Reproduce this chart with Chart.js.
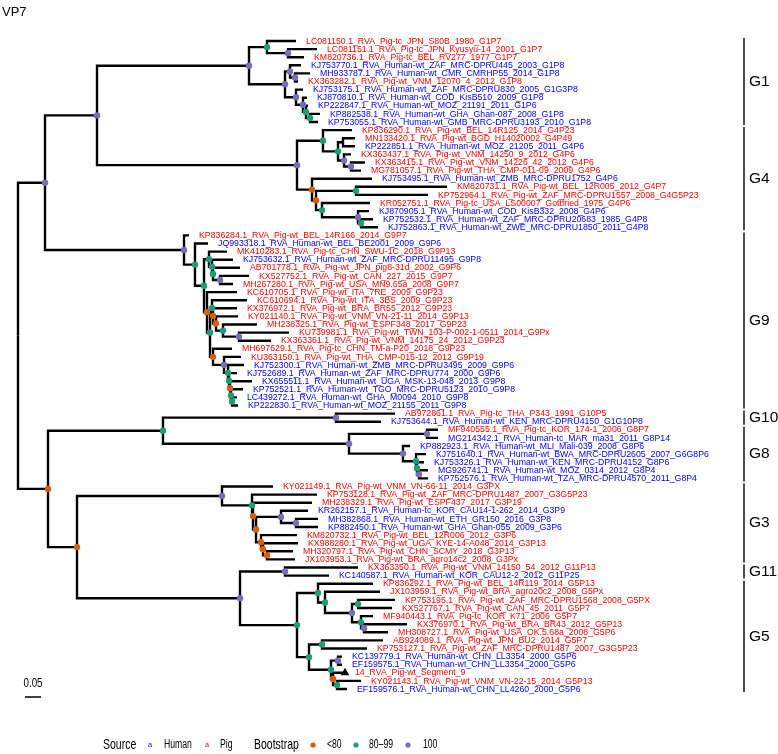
<!DOCTYPE html>
<html><head><meta charset="utf-8">
<script src="https://cdn.jsdelivr.net/npm/chart.js@4.4.1/dist/chart.umd.min.js"></script>
<style>html,body{margin:0;padding:0;background:#fff;}#wrap{width:778px;height:754px;position:relative;}canvas{display:block;}</style>
</head><body><div id="wrap"><canvas id="c" width="778" height="754"></canvas></div>
<script>
// ---------- DATA ----------
const leafNames = [
"LC081150.1_RVA_Pig-tc_JPN_S80B_1980_G1P7",
"LC081151.1_RVA_Pig-tc_JPN_Kyusyu-14_2001_G1P7",
"KM820736.1_RVA_Pig-tc_BEL_RV277_1977_G1P7",
"KJ753770.1_RVA_Human-wt_ZAF_MRC-DPRU445_2003_G1P8",
"MH933787.1_RVA_Human-wt_CMR_CMRHP55_2014_G1P8",
"KX363282.1_RVA_Pig-wt_VNM_12070_4_2012_G1P8",
"KJ753175.1_RVA_Human-wt_ZAF_MRC-DPRU830_2005_G1G3P8",
"KJ870810.1_RVA_Human-wt_COD_KisB510_2009_G1P8",
"KP222847.1_RVA_Human-wt_MOZ_21191_2011_G1P6",
"KP882538.1_RVA_Human-wt_GHA_Ghan-087_2008_G1P8",
"KP753055.1_RVA_Human-wt_GMB_MRC-DPRU3193_2010_G1P8",
"KP836290.1_RVA_Pig-wt_BEL_14R125_2014_G4P23",
"MN133420.1_RVA_Pig-wt_BGD_H14020002_G4P49",
"KP222851.1_RVA_Human-wt_MOZ_21205_2011_G4P6",
"KX363437.1_RVA_Pig-wt_VNM_14250_9_2012_G4P6",
"KX363415.1_RVA_Pig-wt_VNM_14226_42_2012_G4P6",
"MG781057.1_RVA_Pig-wt_THA_CMP-011-09_2009_G4P6",
"KJ753495.1_RVA_Human-wt_ZMB_MRC-DPRU1752_G4P6",
"KM820731.1_RVA_Pig-wt_BEL_12R005_2012_G4P7",
"KP752964.1_RVA_Pig-wt_ZAF_MRC-DPRU1557_2008_G4G5P23",
"KR052751.1_RVA_Pig-tc_USA_LS00007_Gottfried_1975_G4P6",
"KJ870905.1_RVA_Human-wt_COD_KisB332_2008_G4P6",
"KP752532.1_RVA_Human-wt_ZAF_MRC-DPRU20683_1985_G4P8",
"KJ752863.1_RVA_Human-wt_ZWE_MRC-DPRU1850_2011_G4P8",
"KP836284.1_RVA_Pig-wt_BEL_14R166_2014_G9P7",
"JQ993318.1_RVA_Human-wt_BEL_BE2001_2009_G9P6",
"MK410283.1_RVA_Pig-tc_CHN_SWU-1C_2018_G9P13",
"KJ753632.1_RVA_Human-wt_ZAF_MRC-DPRU11495_G9P8",
"AB701778.1_RVA_Pig-wt_JPN_pig8-31d_2002_G9P6",
"KX527752.1_RVA_Pig-wt_CAN_227_2015_G9P7",
"MH267280.1_RVA_Pig-wt_USA_MN9.65a_2008_G9P7",
"KC610705.1_RVA_Pig-wt_ITA_7RE_2009_G9P23",
"KC610694.1_RVA_Pig-wt_ITA_3BS_2009_G9P23",
"KX376972.1_RVA_Pig-wt_BRA_BR55_2012_G9P23",
"KY021140.1_RVA_Pig-wt_VNM_VN-21-11_2014_G9P13",
"MH238325.1_RVA_Pig-wt_ESPF348_2017_G9P23",
"KU739981.1_RVA_Pig-wt_TWN_103-P-002-1-0511_2014_G9Px",
"KX363361.1_RVA_Pig-wt_VNM_14175_24_2012_G9P23",
"MH697629.1_RVA_Pig-tc_CHN_TM-a-P20_2018_G9P23",
"KU363150.1_RVA_Pig-wt_THA_CMP-015-12_2012_G9P19",
"KJ752300.1_RVA_Human-wt_ZMB_MRC-DPRU3495_2009_G9P6",
"KJ752689.1_RVA_Human-wt_ZAF_MRC-DPRU774_2000_G9P6",
"KX655511.1_RVA_Human-wt_UGA_MSK-13-048_2013_G9P8",
"KP752521.1_RVA_Human-wt_TGO_MRC-DPRU5123_2010_G9P8",
"LC439272.1_RVA_Human-wt_GHA_M0094_2010_G9P8",
"KP222830.1_RVA_Human-wt_MOZ_21155_2011_G9P8",
"AB972861.1_RVA_Pig-tc_THA_P343_1991_G10P5",
"KJ753644.1_RVA_Human-wt_KEN_MRC-DPRU4150_G1G10P8",
"MF940555.1_RVA_Pig-tc_KOR_174-1_2006_G8P7",
"MG214342.1_RVA_Human-tc_MAR_ma31_2011_G8P14",
"KP882923.1_RVA_Human-wt_MLI_Mali-039_2008_G8P6",
"KJ751640.1_RVA_Human-wt_BWA_MRC-DPRU2605_2007_G6G8P6",
"KJ753326.1_RVA_Human-wt_KEN_MRC-DPRU4152_G8P6",
"MG926741.1_RVA_Human-wt_MOZ_0314_2012_G8P4",
"KP752576.1_RVA_Human-wt_TZA_MRC-DPRU4570_2011_G8P4",
"KY021149.1_RVA_Pig-wt_VNM_VN-66-11_2014_G3PX",
"KP753128.1_RVA_Pig-wt_ZAF_MRC-DPRU1487_2007_G3G5P23",
"MH238329.1_RVA_Pig-wt_ESPF437_2017_G3P19",
"KR262157.1_RVA_Human-tc_KOR_CAU14-1-262_2014_G3P9",
"MH382868.1_RVA_Human-wt_ETH_GR150_2016_G3P8",
"KP882450.1_RVA_Human-wt_GHA_Ghan-055_2009_G3P6",
"KM820732.1_RVA_Pig-wt_BEL_12R006_2012_G3P6",
"KX988280.1_RVA_Pig-wt_UGA_KYE-14-A048_2014_G3P13",
"MH320797.1_RVA_Pig-wt_CHN_SCMY_2018_G3P13",
"JX103953.1_RVA_Pig-wt_BRA_agro14c2_2008_G3Px",
"KX363350.1_RVA_Pig-wt_VNM_14150_54_2012_G11P13",
"KC140587.1_RVA_Human-wt_KOR_CAU12-2_2012_G11P25",
"KP836292.1_RVA_Pig-wt_BEL_14R119_2014_G5P13",
"JX103959.1_RVA_Pig-wt_BRA_agro20c2_2008_G5Px",
"KP753195.1_RVA_Pig-wt_ZAF_MRC-DPRU1568_2008_G5PX",
"KX527767.1_RVA_Pig-wt_CAN_45_2011_G5P7",
"MF940443.1_RVA_Pig-tc_KOR_K71_2006_G5P7",
"KX376970.1_RVA_Pig-wt_BRA_BR43_2012_G5P13",
"MH308727.1_RVA_Pig-wt_USA_OK.5.68a_2008_G5P6",
"AB924089.1_RVA_Pig-wt_JPN_BU2_2014_G5P7",
"KP753127.1_RVA_Pig-wt_ZAF_MRC-DPRU1487_2007_G3G5P23",
"KC139779.1_RVA_Human-wt_CHN_LL3354_2000_G5P6",
"EF159575.1_RVA_Human-wt_CHN_LL3354_2000_G5P6",
"14_RVA_Pig-wt_Segment_9",
"KY021143.1_RVA_Pig-wt_VNM_VN-22-15_2014_G5P13",
"EF159576.1_RVA_Human-wt_CHN_LL4260_2000_G5P6"
];
const leafSource = ("PPPHHPHHHHH" + "PPHPPPHPPPHHH" + "PHPHPPPPPPPPPPPPHHHHHH" + "PH" + "PHHHHHH" + "PPPHHHPPPP" + "PH" + "PPPPPPPPPHHPPH").split("");
// tip depth (substitutions/site from root)
const leafDepth = [
0.8688,0.9344,0.8938,0.8844,0.9125,0.875,0.8906,0.9031,0.9063,0.9438,0.9375,
1.0438,1.0531,1.0531,1.0406,1.0844,1.0719,1.1063,1.3406,1.2813,1.1,1.0969,1.1094,1.125,
0.5344,0.5938,0.6531,0.6719,0.6938,0.7219,0.6719,0.6844,0.7156,0.6844,0.6875,0.7469,0.8469,0.7906,0.6688,0.6969,0.7063,0.6844,0.7313,0.7031,0.6844,0.6875,
1.1781,1.1344,
1.3125,1.3125,1.225,1.275,1.2688,1.2813,1.2813,
0.7969,0.9344,0.9188,0.9063,0.9375,0.9375,0.8719,0.875,0.8594,0.8656,
1.0625,0.9719,
1.1094,1.1313,1.1781,1.1688,1.1094,1.2156,1.1563,1.1406,1.0906,1.0125,1.0125,1.0219,1.0719,1.0281
];
// internal nodes: [depth, bootstrapClass(0 none,1 <80,2 80-99,3 100), children...]; numbers = leaf index
const TREE = [0, 0,
  [0.0844, 3,
    [0.2469, 3,
      [0.7219, 3,
        [0.7781, 2, 0, [0.8438, 3, 1, 2]],
        [0.8344, 3,
          [0.85, 3, 3, [0.8656, 3, 4, 5]],
          [0.8688, 3, 6, [0.8906, 3, 7, [0.9, 2, 8, [0.9125, 2, 9, 10]]]]]],
      [0.8719, 3,
        [0.9531, 2, 11, [1.0, 2, [1.0156, 0, 12, 13], [1.0188, 3, 14, [1.0406, 3, 15, 16]]]],
        [0.9188, 1, 17, [0.9313, 1, [1.0563, 2, 18, 19], [0.95, 2, 20, [1.0625, 3, 21, [1.0719, 2, 22, 23]]]]]]],
    [0.5188, 3, 24,
      [0.5531, 2, 25,
        [0.5813, 2,
          [0.5969, 2, 26, [0.6063, 2, 27, [0.6094, 2, 28, [0.6313, 3, 29, 30]]]],
          [0.5906, 1, 31,
            [0.6, 2,
              [0.6063, 2, 32, [0.6094, 1, 33, [0.6188, 1, 34, [0.6406, 2, 35, [0.6906, 3, 36, 37]]]]],
              [0.6094, 1, 38, [0.6438, 3, 39, [0.6563, 2, 40, [0.6594, 2, 41, [0.6625, 1, 42, [0.6656, 2, 43, [0.6688, 2, 44, 45]]]]]]]]]]]]],
  [0.0938, 1,
    [0.4531, 2,
      [0.9938, 3, 46, 47],
      [1.0344, 3, [1.2781, 3, 48, 49], [1.2031, 3, 50, [1.2438, 2, 51, [1.2469, 2, 52, [1.2531, 3, 53, 54]]]]]],
    [0.1844, 1,
      [0.6375, 3, 55, [0.7313, 2, 56, [0.7344, 1, 57, [0.7438, 1, [0.8219, 3, 58, [0.8688, 3, 59, 60]], [0.7594, 1, 61, [0.7656, 1, 62, [0.7781, 1, 63, 64]]]]]]],
      [0.6938, 3,
        [0.8344, 3, 65, 66],
        [0.8719, 2,
          [0.9375, 2, 67, [0.9594, 2, 68, [1.0438, 3, [1.0625, 2, 69, 70], [1.0719, 2, 71, [1.0813, 3, 72, 73]]]]],
          [0.9094, 2, [0.95, 2, 74, 75], [0.9781, 2, [1.0, 3, 76, 77], [0.9844, 1, 78, [0.9969, 2, 79, 80]]]]]]]]
];
const bootLabels = ["<80", "80\u201399", "100"];
const markedLeaves = [78];
const groupNames = ["G1", "G4", "G9", "G10", "G8", "G3", "G11", "G5"];
const groupFirst = [0, 11, 24, 46, 48, 55, 65, 67];
const groupLast  = [10, 23, 45, 47, 54, 64, 66, 80];
const sourceNames = {H: "Human", P: "Pig"};
const scaleBarValue = 0.05;
const titleText = "VP7";

// ---------- STYLE ----------
const SRC_COLOR = {H: "#0000ff", P: "#ff0000"};
const BOOT_COLOR = ["#D95F02", "#1B9E77", "#7570B3"];
const PX_PER_UNIT = 320, ROOT_PX = 18, TOP_PX = 41, ROW_PX = 8.1;
const W = 778, H = 754;

// ---------- LAYOUT ----------
const edges = [];
const bootPts = [[], [], []];
function layout(node) {
  if (typeof node === "number") return {x: leafDepth[node], y: node};
  const d = node[0], b = node[1];
  const kids = node.slice(2).map(layout);
  const y = kids.reduce((s, k) => s + k.y, 0) / kids.length;
  kids.forEach(k => edges.push([{x: d, y: y}, {x: d, y: k.y}, {x: k.x, y: k.y}]));
  if (b > 0) bootPts[b - 1].push({x: d, y: y});
  return {x: d, y: y};
}
layout(TREE);

const datasets = edges.map(e => ({
  type: "scatter", data: e, showLine: true, borderColor: "#000", borderWidth: 2.4,
  pointRadius: 0, borderJoinStyle: "miter", borderCapStyle: "butt", order: 2
}));
bootPts.forEach((pts, i) => datasets.push({
  type: "scatter", data: pts, pointRadius: 3.2, pointBackgroundColor: BOOT_COLOR[i],
  pointBorderWidth: 0, pointBorderColor: BOOT_COLOR[i], order: 0
}));
datasets.push({
  type: "scatter", data: markedLeaves.map(i => ({x: leafDepth[i], y: i})),
  pointStyle: "triangle", pointRadius: 5, pointBackgroundColor: "#000", pointBorderColor: "#000",
  pointBorderWidth: 0, order: 0
});

function txt(ctx, s, x, y, font, color, sx, align) {
  ctx.save();
  ctx.font = font; ctx.fillStyle = color; ctx.textBaseline = "middle";
  ctx.textAlign = align || "left";
  ctx.translate(x, y); ctx.scale(sx, 1); ctx.fillText(s, 0, 0);
  ctx.restore();
}

const decor = {
  id: "decor",
  afterDatasetsDraw(chart) {
    const ctx = chart.ctx, xs = chart.scales.x, ys = chart.scales.y;
    const off = 10 / PX_PER_UNIT;
    leafNames.forEach((n, i) => {
      txt(ctx, n, xs.getPixelForValue(leafDepth[i] + off), ys.getPixelForValue(i),
        "9.5px 'Liberation Sans', Arial, sans-serif", SRC_COLOR[leafSource[i]], 0.92);
    });
    const bx = 744;
    ctx.save(); ctx.strokeStyle = "#000"; ctx.lineWidth = 1.4;
    groupNames.forEach((g, k) => {
      const y0 = ys.getPixelForValue(groupFirst[k]) - 3, y1 = ys.getPixelForValue(groupLast[k]) + 3;
      ctx.beginPath(); ctx.moveTo(bx, y0); ctx.lineTo(bx, y1); ctx.stroke();
      txt(ctx, g, 749, (y0 + y1) / 2, "15.5px 'Liberation Sans', Arial, sans-serif", "#000", 1);
    });
    ctx.restore();
    txt(ctx, titleText, 2, 12, "13px 'Liberation Sans', Arial, sans-serif", "#000", 1);
    const sb0 = xs.getPixelForValue(7 / PX_PER_UNIT), sb1 = xs.getPixelForValue(7 / PX_PER_UNIT + scaleBarValue);
    ctx.save(); ctx.strokeStyle = "#000"; ctx.lineWidth = 1.5;
    ctx.beginPath(); ctx.moveTo(sb0, 697); ctx.lineTo(sb1, 697); ctx.stroke(); ctx.restore();
    txt(ctx, String(scaleBarValue), (sb0 + sb1) / 2, 684, "12px 'Liberation Sans', Arial, sans-serif", "#000", 0.82, "center");
    const ly = 745;
    const tf = "15px 'Liberation Sans', Arial, sans-serif", lf = "12px 'Liberation Sans', Arial, sans-serif";
    txt(ctx, "Source", 103, ly, tf, "#000", 0.7);
    txt(ctx, "a", 150, ly, "8px 'Liberation Sans', Arial, sans-serif", SRC_COLOR.H, 0.9, "center");
    txt(ctx, sourceNames.H, 164, ly, lf, "#000", 0.72);
    txt(ctx, "a", 207, ly, "8px 'Liberation Sans', Arial, sans-serif", SRC_COLOR.P, 0.9, "center");
    txt(ctx, sourceNames.P, 220, ly, lf, "#000", 0.72);
    txt(ctx, "Bootstrap", 254, ly, tf, "#000", 0.7);
    const dotX = [313, 356, 408], labX = [327, 369, 423];
    bootLabels.forEach((b, i) => {
      ctx.save(); ctx.fillStyle = BOOT_COLOR[i]; ctx.beginPath(); ctx.arc(dotX[i], ly, 2.6, 0, Math.PI * 2); ctx.fill(); ctx.restore();
      txt(ctx, b, labX[i], ly, lf, "#000", 0.72);
    });
  }
};

new Chart(document.getElementById("c"), {
  type: "scatter",
  data: {datasets},
  options: {
    responsive: false, animation: false, events: [],
    layout: {padding: 0, autoPadding: false},
    plugins: {legend: {display: false}, tooltip: {enabled: false}, title: {display: false}},
    scales: {
      x: {type: "linear", display: false, min: -ROOT_PX / PX_PER_UNIT, max: (W - ROOT_PX) / PX_PER_UNIT},
      y: {type: "linear", display: false, reverse: true, min: -TOP_PX / ROW_PX, max: (H - TOP_PX) / ROW_PX}
    }
  },
  plugins: [decor]
});
</script></body></html>
